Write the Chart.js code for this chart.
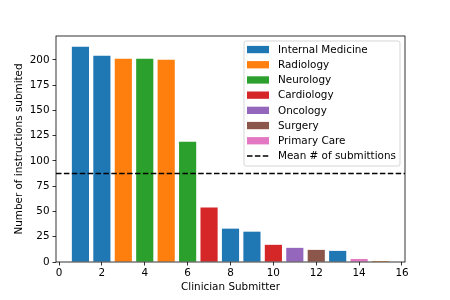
<!DOCTYPE html>
<html>
<head>
<meta charset="utf-8">
<script src="https://cdn.jsdelivr.net/npm/chart.js@4/dist/chart.umd.min.js"></script>
<style>
  html, body { margin: 0; padding: 0; background: #fff; }
</style>
</head>
<body>
<canvas id="chart" width="450" height="300"></canvas>
<script>
// data
const submitters = [1, 2, 3, 4, 5, 6, 7, 8, 9, 10, 11, 12, 13, 14, 15];
const submissions = [213, 204, 201, 201, 200, 119, 54, 33, 30, 17, 14, 12, 11, 3, 1];
const specialties = [
  'Internal Medicine', 'Internal Medicine', 'Radiology', 'Neurology', 'Radiology',
  'Neurology', 'Cardiology', 'Internal Medicine', 'Internal Medicine', 'Cardiology',
  'Oncology', 'Surgery', 'Internal Medicine', 'Primary Care', 'Radiology'
];
const legendSpecialties = ['Internal Medicine', 'Radiology', 'Neurology', 'Cardiology', 'Oncology', 'Surgery', 'Primary Care'];
const specialtyColors = ['#1f77b4', '#ff7f0e', '#2ca02c', '#d62728', '#9467bd', '#8c564b', '#e377c2'];
const meanLabel = 'Mean # of submittions';
const xTicks = [0, 2, 4, 6, 8, 10, 12, 14, 16];
const yTicks = [0, 25, 50, 75, 100, 125, 150, 175, 200];

const xMin = -0.14, xMax = 16.14, yMax = 223.6;
const FONT = 'DejaVu Sans';
const FS = 10.4;

const mean = submissions.reduce((a, b) => a + b, 0) / submissions.length;
const colorOf = name => specialtyColors[legendSpecialties.indexOf(name)];

// matplotlib-ish frame + legend box inside the axes
const framePlugin = {
  id: 'frame',
  afterDraw(chart) {
    const { ctx, chartArea: a } = chart;
    ctx.save();
    ctx.strokeStyle = '#000';
    ctx.lineWidth = 0.8;
    ctx.strokeRect(a.left, a.top, a.right - a.left, a.bottom - a.top);

    // legend
    const bx = a.right - 161, by = a.top + 5, bw = 156, bh = 125;
    ctx.beginPath();
    ctx.roundRect(bx, by, bw, bh, 2);
    ctx.fillStyle = 'rgba(255,255,255,0.8)';
    ctx.fill();
    ctx.strokeStyle = 'rgba(204,204,204,0.8)';
    ctx.lineWidth = 1;
    ctx.stroke();

    ctx.font = FS + 'px "' + FONT + '"';
    ctx.textBaseline = 'middle';
    ctx.fillStyle = '#000';
    const hx = bx + 3, hw = 22, rowH = 15.2;
    let cy = by + 8.5;
    legendSpecialties.forEach((name, i) => {
      ctx.fillStyle = specialtyColors[i];
      ctx.fillRect(hx, cy - 3.6, hw, 7.3);
      ctx.fillStyle = '#000';
      ctx.fillText(name, hx + 31, cy + 0.5);
      cy += rowH;
    });
    ctx.beginPath();
    ctx.setLineDash([5.5, 2.4]);
    ctx.lineWidth = 1.5;
    ctx.strokeStyle = '#000';
    ctx.moveTo(hx, cy);
    ctx.lineTo(hx + hw, cy);
    ctx.stroke();
    ctx.setLineDash([]);
    ctx.fillText(meanLabel, hx + 31, cy + 0.5);
    ctx.restore();
  }
};

new Chart(document.getElementById('chart'), {
  data: {
    datasets: [
      {
        type: 'line',
        data: [{ x: xMin, y: mean }, { x: xMax, y: mean }],
        borderColor: '#000',
        borderWidth: 1.5,
        borderDash: [5.5, 2.4],
        pointRadius: 0,
        order: 0
      },
      {
        type: 'bar',
        data: submitters.map((x, i) => ({ x: x, y: submissions[i] })),
        backgroundColor: specialties.map(colorOf),
        borderWidth: 0,
        barPercentage: 0.8,
        categoryPercentage: 1,
        order: 1
      }
    ]
  },
  options: {
    responsive: false,
    animation: false,
    devicePixelRatio: 1,
    layout: { padding: { left: 0, top: 36, right: 45, bottom: 0 } },
    plugins: { legend: { display: false }, tooltip: { enabled: false } },
    scales: {
      x: {
        type: 'linear',
        offset: false,
        min: xMin,
        max: xMax,
        afterBuildTicks: s => { s.ticks = xTicks.map(v => ({ value: v })); },
        afterFit: s => { s.height = 38; },
        grid: { display: true, offset: false, drawOnChartArea: false, tickLength: 3.5, tickColor: '#000', tickWidth: 0.8 },
        border: { display: false },
        ticks: { color: '#000', font: { family: FONT, size: FS }, padding: 2, maxRotation: 0 },
        title: { display: true, text: 'Clinician Submitter', color: '#000', font: { family: FONT, size: FS }, padding: { top: 0, bottom: 6 } }
      },
      y: {
        min: 0,
        max: yMax,
        afterBuildTicks: s => { s.ticks = yTicks.map(v => ({ value: v })); },
        afterFit: s => { s.width = 56; },
        grid: { display: true, drawOnChartArea: false, tickLength: 3.5, tickColor: '#000', tickWidth: 0.8 },
        border: { display: false },
        ticks: { color: '#000', font: { family: FONT, size: FS }, padding: 3 },
        title: { display: true, text: 'Number of instructions submited', color: '#000', font: { family: FONT, size: FS }, padding: { top: 13, bottom: 0 } }
      }
    }
  },
  plugins: [framePlugin]
});
</script>
</body>
</html>
